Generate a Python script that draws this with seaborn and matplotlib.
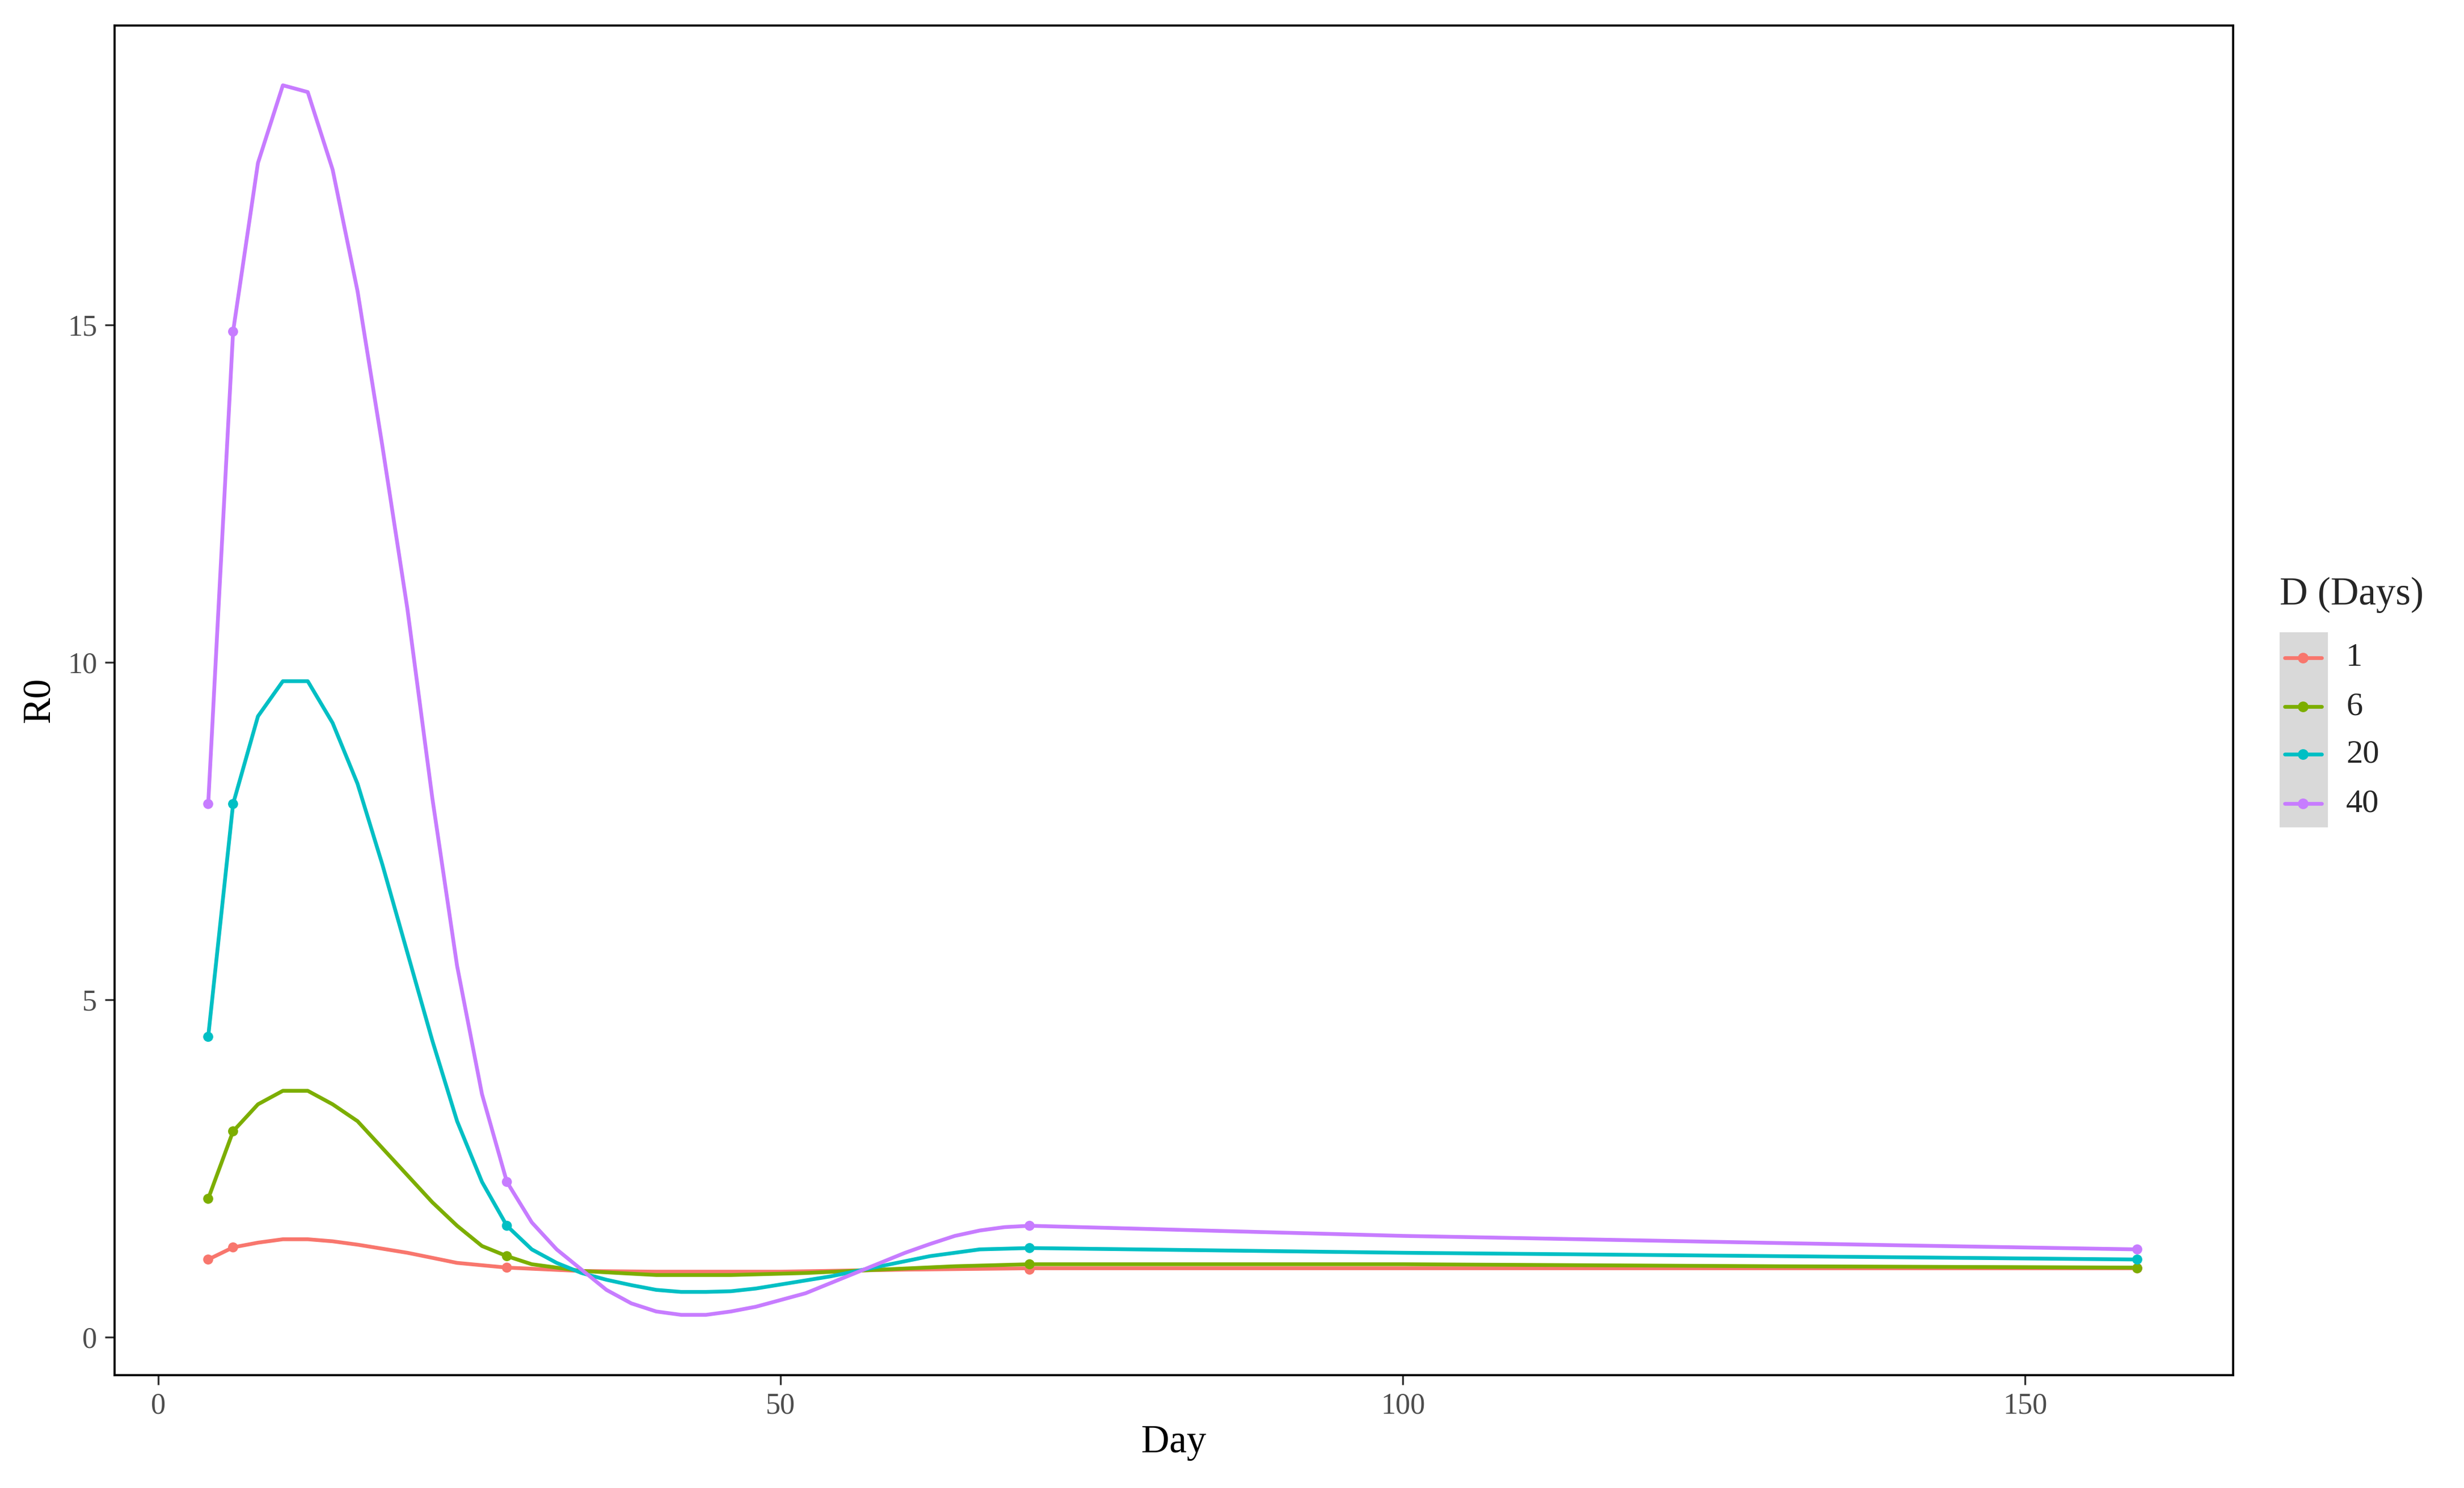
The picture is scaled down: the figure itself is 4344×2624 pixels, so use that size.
import matplotlib
matplotlib.use("Agg")
import matplotlib.pyplot as plt
import seaborn as sns
import pandas as pd
from matplotlib.lines import Line2D
from matplotlib.patches import Rectangle

sns.set_theme(style="white")
plt.rcParams['font.family'] = ['Liberation Serif', 'DejaVu Serif']

groups = ["1", "6", "20", "40"]
colors = ["#F8766D", "#7CAE00", "#00BFC4", "#C77CFF"]

# curve traces
days_1 = [4, 6, 8, 10, 12, 14, 16, 20, 24, 28, 34, 40, 50, 60, 70, 100, 159]
r0_1 = [1.15, 1.33, 1.4, 1.45, 1.45, 1.42, 1.37, 1.25, 1.1, 1.03, 0.98, 0.97, 0.97, 1.0, 1.02, 1.02, 1.02]
days_6 = [4, 6, 8, 10, 12, 14, 16, 18, 20, 22, 24, 26, 28, 30, 34, 40, 46, 52, 58, 64, 70, 100, 130, 159]
r0_6 = [2.05, 3.05, 3.45, 3.65, 3.65, 3.45, 3.2, 2.8, 2.4, 2.0, 1.65, 1.35, 1.2, 1.08, 0.98, 0.92, 0.92, 0.95, 1.0, 1.05, 1.08, 1.08, 1.05, 1.03]
days_20 = [4, 6, 8, 10, 12, 14, 16, 18, 20, 22, 24, 26, 28, 30, 32, 34, 36, 38, 40, 42, 44, 46, 48, 50, 54, 58, 62, 66, 70, 100, 130, 159]
r0_20 = [4.45, 7.9, 9.2, 9.72, 9.72, 9.1, 8.2, 7.0, 5.7, 4.4, 3.2, 2.3, 1.65, 1.3, 1.1, 0.95, 0.85, 0.77, 0.7, 0.67, 0.67, 0.68, 0.72, 0.78, 0.9, 1.05, 1.2, 1.3, 1.32, 1.25, 1.2, 1.15]
days_40 = [4, 6, 8, 10, 12, 14, 16, 18, 20, 22, 24, 26, 28, 30, 32, 34, 36, 38, 40, 42, 44, 46, 48, 50, 52, 54, 56, 58, 60, 62, 64, 66, 68, 70, 80, 100, 120, 140, 159]
r0_40 = [7.9, 14.9, 17.4, 18.55, 18.45, 17.3, 15.5, 13.2, 10.8, 8.0, 5.5, 3.6, 2.3, 1.7, 1.3, 1.0, 0.7, 0.5, 0.38, 0.33, 0.33, 0.38, 0.45, 0.55, 0.65, 0.8, 0.95, 1.1, 1.25, 1.38, 1.5, 1.58, 1.63, 1.65, 1.6, 1.5, 1.43, 1.36, 1.3]

# observed points
pt_days = [4, 6, 28, 70, 159]
pt_1 = [1.15, 1.33, 1.03, 1.0, 1.02]
pt_6 = [2.05, 3.05, 1.2, 1.08, 1.02]
pt_20 = [4.45, 7.9, 1.65, 1.32, 1.15]
pt_40 = [7.9, 14.9, 2.3, 1.65, 1.3]

lines = pd.concat([
    pd.DataFrame({"Day": d, "R0": r, "D": g})
    for d, r, g in zip([days_1, days_6, days_20, days_40], [r0_1, r0_6, r0_20, r0_40], groups)
])
pts = pd.concat([
    pd.DataFrame({"Day": pt_days, "R0": r, "D": g})
    for r, g in zip([pt_1, pt_6, pt_20, pt_40], groups)
])

fig = plt.figure(figsize=(14.483, 8.747), dpi=300)
ax = fig.add_axes([0.0466, 0.076, 0.8595, 0.907])
pal = dict(zip(groups, colors))
sns.lineplot(data=lines, x="Day", y="R0", hue="D", palette=pal, lw=1.6, ax=ax, legend=False, sort=True)
sns.scatterplot(data=pts, x="Day", y="R0", hue="D", palette=pal, s=18, edgecolor="none", ax=ax, legend=False, zorder=3)

ax.set_xlim(-3.5, 166.7)
ax.set_ylim(-0.56, 19.44)
ax.set_xticks([0, 50, 100, 150])
ax.set_yticks([0, 5, 10, 15])
for s in ax.spines.values():
    s.set_color("black"); s.set_linewidth(0.9)
ax.tick_params(axis="both", which="both", length=4, width=0.8, color="#333333",
               labelsize=12.5, labelcolor="#4d4d4d", bottom=True, left=True, direction="out")
ax.set_xlabel("Day", fontsize=16.5, color="black", labelpad=2)
ax.set_ylabel("R0", fontsize=16.5, color="black", labelpad=4)

# legend
fig.text(0.925, 0.6, "D (Days)", fontsize=16.5, va="center", ha="left")
fig.patches.append(Rectangle((0.925, 0.444), 0.0195, 0.131, transform=fig.transFigure,
                             facecolor="#d9d9d9", edgecolor="none"))
ys = [0.558, 0.525, 0.493, 0.460]
for y, g, c in zip(ys, groups, colors):
    fig.lines.append(Line2D([0.927, 0.942], [y, y], transform=fig.transFigure, color=c, lw=1.6))
    fig.lines.append(Line2D([0.9345], [y], transform=fig.transFigure, color=c, marker="o", ms=3.5, lw=0))
    fig.text(0.952, y, g, fontsize=14, va="center", ha="left")

fig.savefig("out.png", dpi=300, facecolor="white")
